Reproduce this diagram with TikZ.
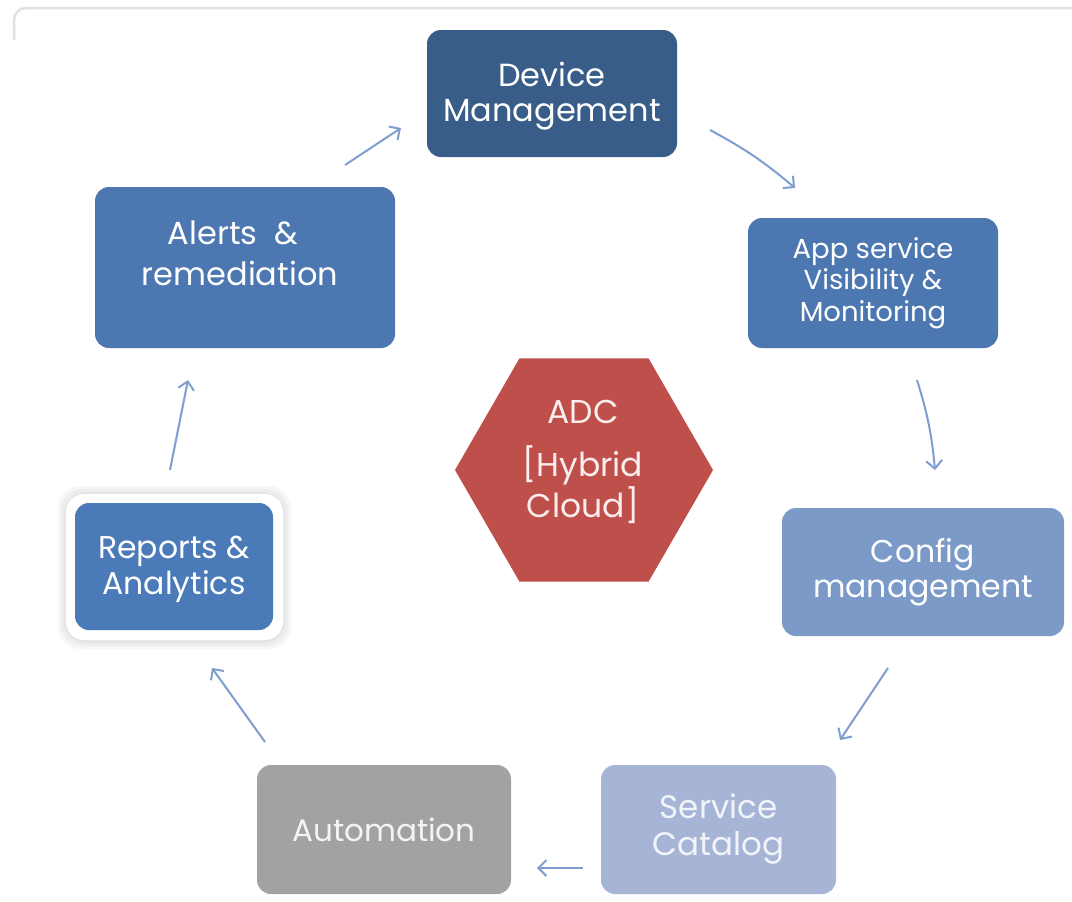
\documentclass[tikz,border=0pt]{standalone}
\usepackage{fontspec}
\setmainfont{Poppins}
\usetikzlibrary{arrows.meta,shapes.geometric}
\definecolor{cdev}{HTML}{385D89}
\definecolor{capp}{HTML}{4C77B1}
\definecolor{ccfg}{HTML}{7C9AC8}
\definecolor{csvc}{HTML}{A6B5D6}
\definecolor{cauto}{HTML}{A2A2A2}
\definecolor{crep}{HTML}{4A7BB8}
\definecolor{chex}{HTML}{BF4F4B}
\definecolor{carrow}{HTML}{7E9ED0}
\definecolor{cframe}{HTML}{E2E2E2}
\tikzset{
  box/.style={rounded corners=14pt, inner sep=0pt, align=center, text=white},
  lbl/.style={align=center, text=white, inner sep=0pt},
  halo/.style={fill=black, opacity=0.035, rounded corners=22pt},
  flow/.style={draw=carrow, line width=2pt, -{Straight Barb[length=8pt,width=16pt,line width=2pt]}},
}
\begin{document}
\begin{tikzpicture}[x=1pt,y=-1pt]
\useasboundingbox (0,0) rectangle (1072,902);
\fill[white] (0,0) rectangle (1072,902);
% frame
\draw[cframe, line width=2.5pt, rounded corners=12pt] (14,40) -- (14,8) -- (1072,8);
% boxes
\node[box, fill=cdev, minimum width=250pt, minimum height=127pt, font=\fontsize{32}{35}\selectfont] (dev) at (552,93.5) {};
\node[lbl, font=\fontsize{32}{35}\selectfont] (devt) at (552,96) {Device\\Management};
\node[box, fill=capp, minimum width=250pt, minimum height=130pt, font=\fontsize{27.5}{31.5}\selectfont] (app) at (873,283) {App service\\Visibility \&\\Monitoring};
\node[box, fill=ccfg, minimum width=282pt, minimum height=128pt, font=\fontsize{31.5}{35}\selectfont] (cfg) at (923,572) {Config\\management};
\node[box, fill=csvc, minimum width=235pt, minimum height=129pt, text={white!85!csvc}, font=\fontsize{32.5}{37}\selectfont] (svc) at (718.5,829.5) {Service\\Catalog};
\node[box, fill=cauto, minimum width=254pt, minimum height=129pt, text={white!88!cauto}, font=\fontsize{31}{35}\selectfont] (auto) at (384,829.5) {Automation};
% reports with white frame and soft halo
\fill[halo] (58,486) rectangle (291,649);
\fill[halo] (61,489) rectangle (288,646);
\fill[halo] (64,492) rectangle (285,643);
\fill[white, rounded corners=18pt] (66,494) rectangle (283,640);
\node[box, fill=crep, minimum width=198pt, minimum height=127pt] (rep) at (174,566.5) {};
\node[lbl, font=\fontsize{31.5}{36}\selectfont] (rept) at (174,569.5) {Reports \&\\Analytics};
% alerts
\node[box, fill=capp, minimum width=300pt, minimum height=161pt] (alr) at (245,267.5) {};
\node[lbl, font=\fontsize{32}{41}\selectfont] (alrt) at (240,253) {\hspace*{-14pt}Alerts~ \&\\remediation};
% hexagon
\node[regular polygon, regular polygon sides=6, fill=chex, minimum size=258pt, inner sep=0pt] (hex) at (584,470) {};
\node[lbl, text={white!90!chex}, font=\fontsize{33}{35}\selectfont] (hext) at (583,462) {ADC\\[18pt]{}[Hybrid\\Cloud]};
% arrows
\coordinate (a1s) at (345,165); \coordinate (a1e) at (401,128);
\coordinate (a2s) at (710,130); \coordinate (a2e) at (795,188);
\coordinate (a3s) at (917,380); \coordinate (a3e) at (935,470);
\coordinate (a4s) at (888,668); \coordinate (a4e) at (840,740);
\coordinate (a5s) at (583,868); \coordinate (a5e) at (537,868);
\coordinate (a6s) at (265,742); \coordinate (a6e) at (212,668);
\coordinate (a7s) at (170,470); \coordinate (a7e) at (188,380);
\draw[flow] (a1s) -- (a1e);
\draw[flow] (a2s) to[bend left=6] (a2e);
\draw[flow] (a3s) to[bend left=6] (a3e);
\draw[flow] (a4s) -- (a4e);
\draw[flow] (a5s) -- (a5e);
\draw[flow] (a6s) -- (a6e);
\draw[flow] (a7s) -- (a7e);
\end{tikzpicture}
\end{document}
